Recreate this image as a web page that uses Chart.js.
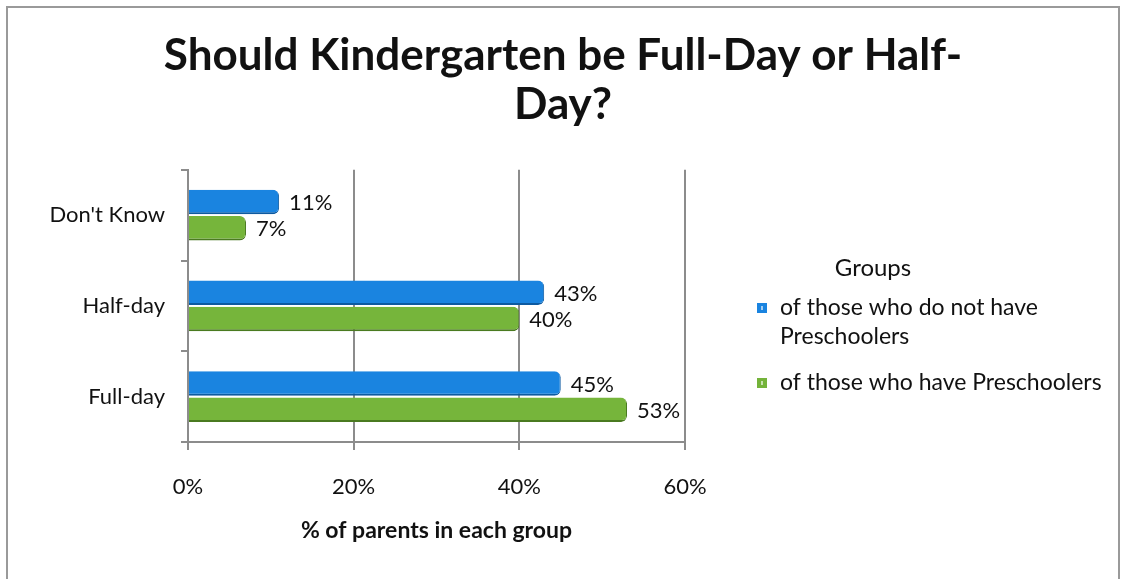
<!DOCTYPE html>
<html>
<head>
<meta charset="utf-8">
<script src="https://cdn.jsdelivr.net/npm/chart.js@4.4.1/dist/chart.umd.min.js"></script>
<style>
  html, body { margin:0; padding:0; background:#fff; }
  #wrap { position:relative; width:1126px; height:579px; }
  #frame { position:absolute; left:6px; top:6px; width:1110px; height:600px;
           border:2px solid #9a9a9a; border-bottom:none; pointer-events:none; }
</style>
</head>
<body>
<div id="wrap">
  <canvas id="chartKinder" width="1126" height="579"></canvas>
  <div id="frame"></div>
</div>
<script>
// Datos
const categorias = ["Don't Know", "Half-day", "Full-day"];
const sinPreescolar = [11, 43, 45];   // of those who do not have Preschoolers
const conPreescolar = [7, 40, 53];    // of those who have Preschoolers
const ticksX = [0, 20, 40, 60];
const grupos = ["of those who do not have Preschoolers", "of those who have Preschoolers"];

const FONT = "Lato, 'Open Sans', Arial, sans-serif";
Chart.defaults.font.family = FONT;
Chart.defaults.color = "#111";

// Etiquetas de valor al final de cada barra
const valueLabels = {
  id: "valueLabels",
  afterDatasetsDraw(chart){
    const ctx = chart.ctx;
    ctx.save();
    ctx.font = "22px " + FONT;
    ctx.fillStyle = "#111";
    ctx.textAlign = "left";
    ctx.textBaseline = "middle";
    chart.data.datasets.forEach((ds, i) => {
      chart.getDatasetMeta(i).data.forEach((bar, j) => {
        ctx.fillText(ds.data[j] + "%", bar.x + 10, bar.y + 1);
      });
    });
    ctx.restore();
  }
};

// Leyenda a la derecha (con texto en varias lineas)
const sideLegend = {
  id: "sideLegend",
  afterDraw(chart){
    const ctx = chart.ctx;
    const colors = ["#1a84e0", "#74b33a"];
    const lines = [["of those who do not have", "Preschoolers"], ["of those who have Preschoolers"]];
    ctx.save();
    ctx.textBaseline = "middle";
    ctx.font = "24px " + FONT;
    ctx.fillStyle = "#111";
    ctx.textAlign = "center";
    ctx.fillText("Groups", 873, 268);
    ctx.font = "23px " + FONT;
    ctx.textAlign = "left";
    let y = 308;
    lines.forEach((ls, i) => {
      ctx.fillStyle = colors[i];
      ctx.fillRect(757, y - 5, 10, 10);
      ctx.fillStyle = "rgba(255,255,255,.6)";
      ctx.fillRect(761, y - 2, 2, 4);
      ctx.fillStyle = "#111";
      ls.forEach((t, k) => ctx.fillText(t, 780, y + k * 29));
      y += ls.length * 29 + 17;
    });
    ctx.restore();
  }
};

new Chart(document.getElementById("chartKinder").getContext("2d"), {
  type: "bar",
  data: {
    labels: categorias,
    datasets: [
      { label: grupos[0], data: sinPreescolar, backgroundColor: "#1a84e0",
        borderColor: "#0d5aa0", borderWidth: { top:0, right:1, bottom:2, left:0 },
        borderRadius: { topRight:6, bottomRight:6 }, borderSkipped: "start" },
      { label: grupos[1], data: conPreescolar, backgroundColor: "#76b53b",
        borderColor: "#4a7a20", borderWidth: { top:0, right:1, bottom:2, left:0 },
        borderRadius: { topRight:6, bottomRight:6 }, borderSkipped: "start" }
    ]
  },
  plugins: [valueLabels, sideLegend],
  options: {
    indexAxis: "y",
    responsive: false,
    animation: false,
    categoryPercentage: 0.58,
    barPercentage: 0.93,
    layout: { padding: { left: 0, right: 0, top: 0, bottom: 35 } },
    plugins: {
      legend: { display: false },
      tooltip: { enabled: false },
      title: {
        display: true,
        text: ["Should Kindergarten be Full-Day or Half-", "Day?"],
        font: { size: 44, weight: "bold", family: FONT, lineHeight: 1.1 },
        color: "#111",
        padding: { top: 32, bottom: 41 }
      }
    },
    scales: {
      x: {
        min: 0, max: 60,
        afterBuildTicks(s){ s.ticks = ticksX.map(v => ({ value: v })); },
        ticks: { callback: v => v + "%", font: { size: 22 }, color: "#111", padding: 24 },
        grid: { color: "#8c8c8c", lineWidth: 2, tickLength: 8 },
        border: { color: "#8c8c8c", width: 2 },
        title: { display: true, text: "% of parents in each group",
                 font: { size: 23, weight: "bold" }, color: "#111", padding: { top: 10, bottom: 0 } },
        afterFit(s){ s.height = 102; }
      },
      y: {
        ticks: { font: { size: 22 }, color: "#111", padding: 16 },
        grid: { drawOnChartArea: false, color: "#8c8c8c", lineWidth: 2, tickLength: 7, offset: true },
        border: { color: "#8c8c8c", width: 2 },
        afterFit(s){ s.width = 188; }
      },
      derecha: {
        type: "linear",
        position: "right",
        display: true,
        ticks: { display: false },
        grid: { display: false },
        border: { display: false },
        afterFit(s){ s.width = 441; }
      }
    }
  }
});
</script>
</body>
</html>
